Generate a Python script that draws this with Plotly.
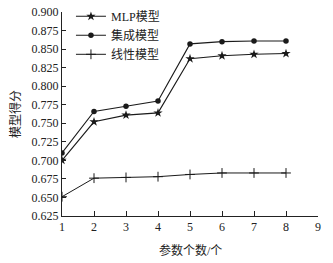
import plotly.graph_objects as go

x_vals = [1, 2, 3, 4, 5, 6, 7, 8]
mlp = [0.700, 0.752, 0.761, 0.764, 0.837, 0.841, 0.843, 0.844]
ensemble = [0.710, 0.766, 0.773, 0.780, 0.857, 0.860, 0.861, 0.861]
linear = [0.651, 0.676, 0.677, 0.678, 0.681, 0.683, 0.683, 0.683]
names = ["MLP模型", "集成模型", "线性模型"]
x_ticks = [1, 2, 3, 4, 5, 6, 7, 8, 9]
y_ticks = [0.625, 0.650, 0.675, 0.700, 0.725, 0.750, 0.775, 0.800, 0.825, 0.850, 0.875, 0.900]

FONT = "Liberation Serif, Noto Sans CJK SC, serif"
INK = "#1a1a1a"

fig = go.Figure()
fig.add_trace(go.Scatter(x=x_vals, y=mlp, name=names[0], mode="lines+markers",
                         line=dict(color=INK, width=1.1),
                         marker=dict(symbol="star", size=7, color=INK)))
fig.add_trace(go.Scatter(x=x_vals, y=ensemble, name=names[1], mode="lines+markers",
                         line=dict(color=INK, width=1.1),
                         marker=dict(symbol="circle", size=5.5, color=INK)))
fig.add_trace(go.Scatter(x=x_vals, y=linear, name=names[2], mode="lines+markers",
                         line=dict(color=INK, width=1),
                         marker=dict(symbol="cross-thin-open", size=7, color=INK,
                                     line=dict(width=1, color=INK))))

fig.update_layout(
    width=333, height=263,
    margin=dict(l=62, r=15, t=12, b=47, autoexpand=False),
    paper_bgcolor="white", plot_bgcolor="white",
    font=dict(family=FONT, size=12, color="#222"),
    showlegend=True,
    legend=dict(x=0.035, y=1.05, xanchor="left", yanchor="top",
                bgcolor="rgba(0,0,0,0)", font=dict(size=12, family=FONT),
                tracegroupgap=0),
    xaxis=dict(range=[1, 9], tickvals=x_ticks, ticks="inside", ticklen=5,
               tickcolor="#222", showline=True, linecolor="#222", linewidth=1,
               showgrid=False, zeroline=False, tickfont=dict(size=12, family=FONT),
               automargin=False),
    yaxis=dict(range=[0.625, 0.900], tickvals=y_ticks,
               ticktext=[f"{v:.3f}" for v in y_ticks], ticks="inside", ticklen=4,
               tickcolor="#222", showline=True, linecolor="#222", linewidth=1,
               showgrid=False, zeroline=False, tickfont=dict(size=12, family=FONT),
               automargin=False),
    annotations=[
        dict(text="参数个数/个", xref="paper", yref="paper", x=0.5, y=0,
             yshift=-34, showarrow=False, font=dict(size=12, family=FONT),
             xanchor="center", yanchor="middle"),
        dict(text="模型得分", xref="paper", yref="paper", x=0, y=0.5,
             xshift=-47, showarrow=False, textangle=-90,
             font=dict(size=12, family=FONT), xanchor="center", yanchor="middle"),
    ],
)

fig.write_html("out.html", config={"displayModeBar": False},
               post_script="document.body.style.margin='0';")
